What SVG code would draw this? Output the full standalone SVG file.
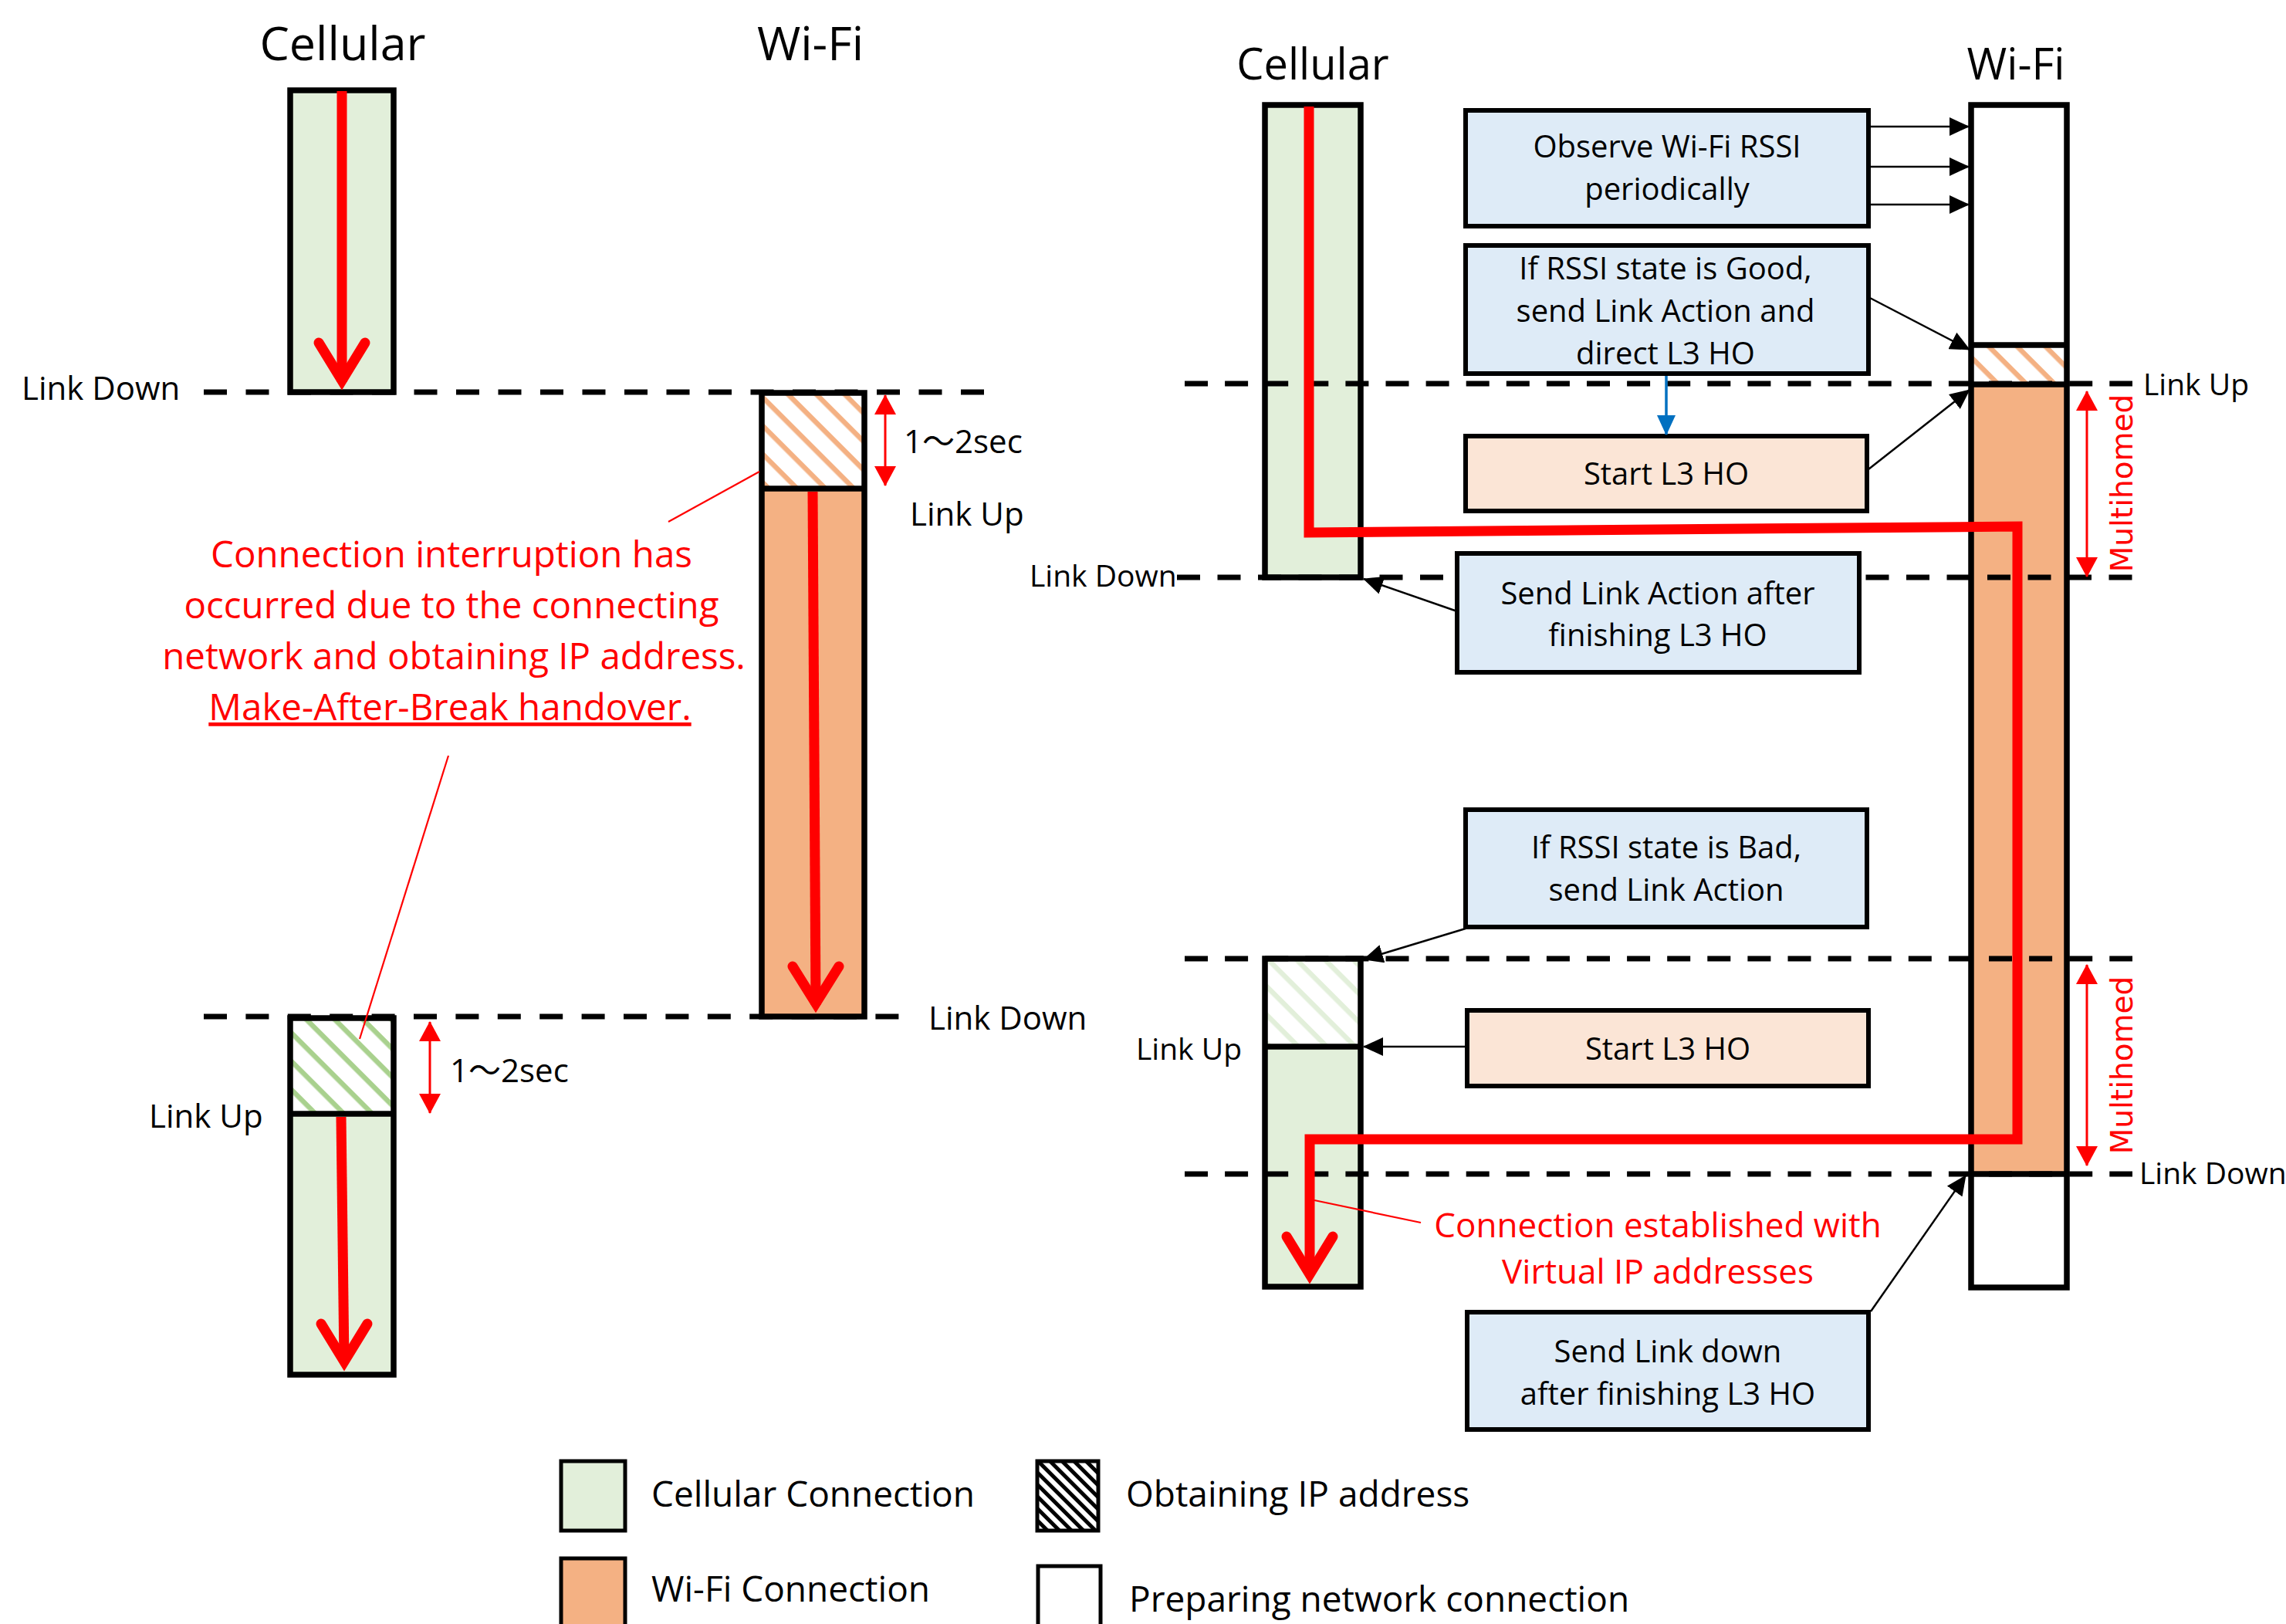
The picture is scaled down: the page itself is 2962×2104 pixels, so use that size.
<svg xmlns="http://www.w3.org/2000/svg" width="2962" height="2104" viewBox="0 0 2962 2104">
<style>
text{font-family:"Open Sans","Noto Sans","Noto Sans CJK JP",sans-serif;fill:#000}
.title{font-size:61px;text-anchor:middle}
.title2{font-size:56px;text-anchor:middle}
.lbl{font-size:42px}
.lbl2{font-size:39px}
.box-t{font-size:40px;text-anchor:middle}
.redt{font-size:47.5px;text-anchor:middle;fill:#FF0000}
.redt2{font-size:44px;text-anchor:middle;fill:#FF0000}
.leg{font-size:46px}
.mh{font-family:"DejaVu Sans",sans-serif;font-size:39px;fill:#FF0000;text-anchor:middle}
.bar{stroke:#000;stroke-width:7.5;fill:none}
.div{stroke:#000;stroke-width:7.5}
.box{stroke:#000;stroke-width:6}
.dash{stroke:#000;stroke-width:7;stroke-dasharray:30 23;fill:none}
.con{stroke:#000;stroke-width:2.5;fill:none;marker-end:url(#ah)}
.thick{stroke:#FF0000;stroke-width:13;fill:none;stroke-linejoin:miter}
.vhead{stroke:#FF0000;stroke-width:13;fill:none;stroke-linejoin:miter;stroke-linecap:round}
.dbl{stroke:#FF0000;stroke-width:3;fill:none;marker-start:url(#rt);marker-end:url(#rt)}
.leader{stroke:#FF0000;stroke-width:2.2;fill:none}
</style>
<defs>
<pattern id="hOr" patternUnits="userSpaceOnUse" width="26" height="26" patternTransform="rotate(45)"><rect width="26" height="26" fill="#fff"/><rect width="26" height="6.5" fill="#F4B183"/></pattern>
<pattern id="hGr" patternUnits="userSpaceOnUse" width="26" height="26" patternTransform="rotate(45)"><rect width="26" height="26" fill="#fff"/><rect width="26" height="6.5" fill="#A9D18E"/></pattern>
<pattern id="hLg" patternUnits="userSpaceOnUse" width="26" height="26" patternTransform="rotate(45)"><rect width="26" height="26" fill="#fff"/><rect width="26" height="6.5" fill="#E2EFDA"/></pattern>
<pattern id="hBk" patternUnits="userSpaceOnUse" width="11" height="11" patternTransform="rotate(45)"><rect width="11" height="11" fill="#fff"/><rect width="11" height="5" fill="#000"/></pattern>
<marker id="ah" viewBox="0 0 26 24" refX="25" refY="12" markerWidth="26" markerHeight="24" markerUnits="userSpaceOnUse" orient="auto"><path d="M0,0 L26,12 L0,24 z" fill="#000"/></marker>
<marker id="ahb" viewBox="0 0 26 24" refX="25" refY="12" markerWidth="26" markerHeight="24" markerUnits="userSpaceOnUse" orient="auto"><path d="M0,0 L26,12 L0,24 z" fill="#0070C0"/></marker>
<marker id="rt" viewBox="0 0 26 28" refX="25" refY="14" markerWidth="26" markerHeight="28" markerUnits="userSpaceOnUse" orient="auto-start-reverse"><path d="M0,0 L26,14 L0,28 z" fill="#FF0000"/></marker>
</defs>
<rect width="2962" height="2104" fill="#fff"/>

<g id="link-lines">
<line class="dash" x1="264" y1="508" x2="1275" y2="508" style="stroke-dasharray:30 24.5"/>
<line class="dash" x1="264" y1="1317" x2="1165" y2="1317" style="stroke-dasharray:30 24.4"/>
</g>

<g id="left-cellular-1">
<rect x="376" y="117" width="134" height="391" fill="#E2EFDA"/>
<rect class="bar" x="376" y="117" width="134" height="391"/>
</g>
<g id="left-wifi">
<rect x="987" y="509" width="133" height="124" fill="url(#hOr)"/>
<rect x="987" y="633" width="133" height="684" fill="#F4B183"/>
<rect class="bar" x="987" y="509" width="133" height="808"/>
<line class="div" x1="987" y1="633" x2="1120" y2="633"/>
</g>
<g id="left-cellular-2">
<rect x="376" y="1319" width="134" height="124" fill="url(#hGr)"/>
<rect x="376" y="1443" width="134" height="338" fill="#E2EFDA"/>
<rect class="bar" x="376" y="1319" width="134" height="462"/>
<line class="div" x1="376" y1="1443" x2="510" y2="1443"/>
</g>

<g id="right-cellular-1">
<rect x="1639" y="136" width="124" height="612" fill="#E2EFDA"/>
<rect class="bar" x="1639" y="136" width="124" height="612"/>
</g>
<g id="right-wifi">
<rect x="2554" y="136" width="124" height="311" fill="#fff"/>
<rect x="2554" y="447" width="124" height="51" fill="url(#hOr)"/>
<rect x="2554" y="498" width="124" height="1023" fill="#F4B183"/>
<rect x="2554" y="1521" width="124" height="147" fill="#fff"/>
<rect class="bar" x="2554" y="136" width="124" height="1532"/>
<line class="div" x1="2554" y1="447" x2="2678" y2="447"/>
<line class="div" x1="2554" y1="498" x2="2678" y2="498"/>
<line class="div" x1="2554" y1="1521" x2="2678" y2="1521"/>
</g>
<g id="right-cellular-2">
<rect x="1639" y="1242" width="124" height="114" fill="url(#hLg)"/>
<rect x="1639" y="1356" width="124" height="311" fill="#E2EFDA"/>
<rect class="bar" x="1639" y="1242" width="124" height="425"/>
<line class="div" x1="1639" y1="1356" x2="1763" y2="1356"/>
</g>

<g id="right-link-lines">
<line class="dash" x1="1535" y1="497" x2="2763" y2="497" style="stroke-dasharray:30 22.1"/>
<line class="dash" x1="1525" y1="748" x2="2763" y2="748" style="stroke-dasharray:30 22.5"/>
<line class="dash" x1="1535" y1="1242" x2="2763" y2="1242" style="stroke-dasharray:30 22.1"/>
<line class="dash" x1="1535" y1="1521" x2="2763" y2="1521" style="stroke-dasharray:30 22.1"/>
</g>

<g id="box-observe">
<rect class="box" x="1899" y="143" width="522" height="150" fill="#DEEBF7"/>
<text class="box-t" x="2160" y="204">Observe Wi-Fi RSSI</text>
<text class="box-t" x="2160" y="259">periodically</text>
</g>
<g id="box-good">
<rect class="box" x="1899" y="318" width="522" height="166" fill="#DEEBF7"/>
<text class="box-t" x="2158" y="362">If RSSI state is Good,</text>
<text class="box-t" x="2158" y="417">send Link Action and</text>
<text class="box-t" x="2158" y="472">direct L3 HO</text>
</g>
<g id="box-start1">
<rect class="box" x="1899" y="565" width="520" height="97" fill="#FBE5D6"/>
<text class="box-t" x="2159" y="628">Start L3 HO</text>
</g>
<g id="box-send-action">
<rect class="box" x="1888" y="717" width="521" height="154" fill="#DEEBF7"/>
<text class="box-t" x="2148" y="783">Send Link Action after</text>
<text class="box-t" x="2148" y="837">finishing L3 HO</text>
</g>
<g id="box-bad">
<rect class="box" x="1899" y="1049" width="520" height="152" fill="#DEEBF7"/>
<text class="box-t" x="2159" y="1112">If RSSI state is Bad,</text>
<text class="box-t" x="2159" y="1167">send Link Action</text>
</g>
<g id="box-start2">
<rect class="box" x="1901" y="1309" width="520" height="98" fill="#FBE5D6"/>
<text class="box-t" x="2161" y="1373">Start L3 HO</text>
</g>
<g id="box-send-down">
<rect class="box" x="1901" y="1700" width="520" height="152" fill="#DEEBF7"/>
<text class="box-t" x="2161" y="1765">Send Link down</text>
<text class="box-t" x="2161" y="1820">after finishing L3 HO</text>
</g>

<g id="connectors">
<line class="con" x1="2421" y1="164" x2="2551" y2="164"/>
<line class="con" x1="2421" y1="216" x2="2551" y2="216"/>
<line class="con" x1="2421" y1="265" x2="2551" y2="265"/>
<line class="con" x1="2421" y1="385" x2="2552" y2="453"/>
<line x1="2159" y1="487" x2="2159" y2="563" stroke="#0070C0" stroke-width="3.5" marker-end="url(#ahb)"/>
<line class="con" x1="2421" y1="608" x2="2552" y2="505"/>
<line class="con" x1="1888" y1="792" x2="1767" y2="750"/>
<line class="con" x1="1899" y1="1203" x2="1767" y2="1243"/>
<line class="con" x1="1899" y1="1356" x2="1767" y2="1356"/>
<line class="con" x1="2424" y1="1699" x2="2547" y2="1523"/>
<line class="leader" x1="866" y1="676" x2="984" y2="611"/>
<line class="leader" x1="581" y1="979" x2="466" y2="1346"/>
<line class="leader" x1="1841" y1="1584" x2="1703" y2="1555"/>
<line class="dbl" x1="1147" y1="512" x2="1147" y2="629"/>
<line class="dbl" x1="557" y1="1324" x2="557" y2="1442"/>
<line class="dbl" x1="2704" y1="507" x2="2704" y2="747"/>
<line class="dbl" x1="2704" y1="1250" x2="2704" y2="1510"/>
<line class="thick" x1="443" y1="118" x2="443" y2="495"/>
<polyline class="vhead" points="413,444 443,493 473,444"/>
<line class="thick" x1="1053" y1="637" x2="1057" y2="1302"/>
<polyline class="vhead" points="1027,1252 1057,1300 1087,1252"/>
<line class="thick" x1="442" y1="1447" x2="446" y2="1765"/>
<polyline class="vhead" points="416,1715 446,1764 476,1715"/>
<path class="thick" d="M1696,138 V690 L2614,682 V1476 H1697 V1650"/>
<polyline class="vhead" points="1667,1602 1697,1651 1727,1602"/>
</g>

<g id="labels">
<text class="title" x="444" y="78">Cellular</text>
<text class="title" x="1050" y="78">Wi-Fi</text>
<text class="title2" x="1701" y="103">Cellular</text>
<text class="title2" x="2612" y="103">Wi-Fi</text>
<text class="lbl" x="28" y="518">Link Down</text>
<text class="lbl" x="1171" y="587">1〜2sec</text>
<text class="lbl" x="1179" y="681">Link Up</text>
<text class="lbl" x="1203" y="1334">Link Down</text>
<text class="lbl" x="583" y="1402">1〜2sec</text>
<text class="lbl" x="193" y="1461">Link Up</text>
<text class="lbl2" x="2777" y="512">Link Up</text>
<text class="lbl2" x="1334" y="760">Link Down</text>
<text class="lbl2" x="1472" y="1373">Link Up</text>
<text class="lbl2" x="2772" y="1534">Link Down</text>
<text class="mh" transform="translate(2763,626) rotate(-90)">Multihomed</text>
<text class="mh" transform="translate(2763,1380) rotate(-90)">Multihomed</text>
<text class="redt" x="585" y="735">Connection interruption has</text>
<text class="redt" x="585" y="801">occurred due to the connecting</text>
<text class="redt" x="588" y="867">network and obtaining IP address.</text>
<text class="redt" x="583" y="933" text-decoration="underline">Make-After-Break handover.</text>
<text class="redt2" x="2148" y="1603">Connection established with</text>
<text class="redt2" x="2148" y="1663">Virtual IP addresses</text>
</g>

<g id="legend">
<g id="legend-cellular">
<rect x="727" y="1893" width="83" height="90" fill="#E2EFDA" stroke="#000" stroke-width="5"/>
<text class="leg" x="844" y="1952">Cellular Connection</text>
</g>
<g id="legend-obtaining">
<rect x="1344" y="1893" width="79" height="90" fill="url(#hBk)" stroke="#000" stroke-width="5"/>
<text class="leg" x="1459" y="1952">Obtaining IP address</text>
</g>
<g id="legend-wifi">
<rect x="727" y="2019" width="83" height="100" fill="#F4B183" stroke="#000" stroke-width="5"/>
<text class="leg" x="844" y="2075">Wi-Fi Connection</text>
</g>
<g id="legend-preparing">
<rect x="1345" y="2029" width="81" height="100" fill="#fff" stroke="#000" stroke-width="5"/>
<text class="leg" x="1463" y="2088">Preparing network connection</text>
</g>
</g>
</svg>
